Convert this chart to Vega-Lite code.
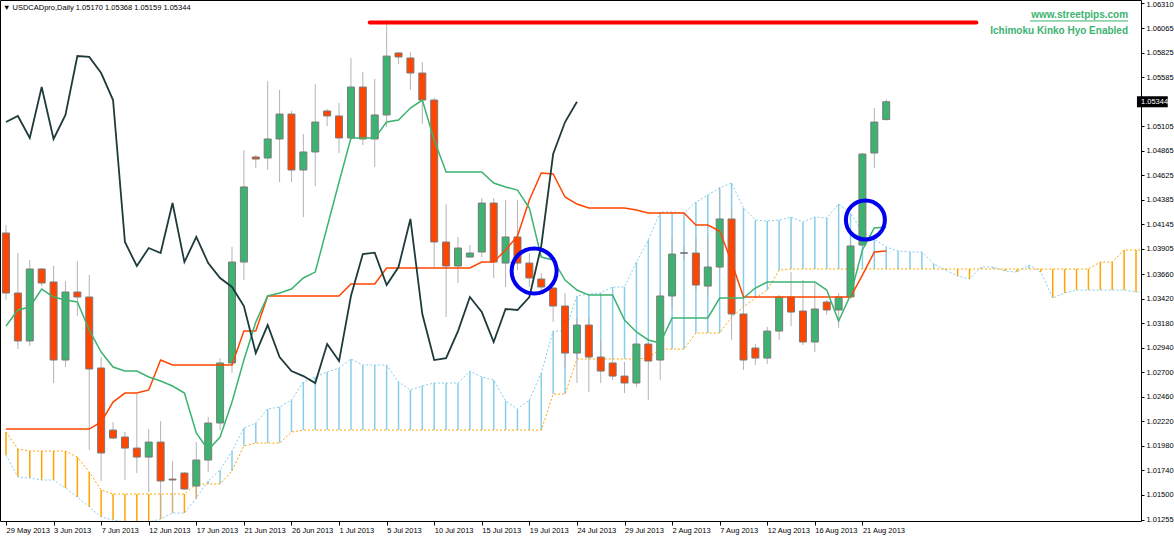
{
"$schema": "https://vega.github.io/schema/vega-lite/v6.json",
"width": 1141, "height": 521,
"autosize": {"type": "none"},
"padding": {"left": 0, "top": 0, "right": 33, "bottom": 15},
"background": "white",
"config": {
 "view": {"stroke": "#000000", "strokeWidth": 1},
 "axis": {"grid": false, "labelOverlap": false, "labelFlush": false, "labelBound": false, "domain": false, "ticks": true, "tickColor": "#000000", "tickWidth": 1, "labelFont": "Liberation Sans", "labelFontSize": 7.5, "labelColor": "#000000", "title": null},
 "axisX": {"tickSize": 4, "labelAlign": "left", "labelPadding": 1},
 "axisY": {"tickSize": 3, "labelPadding": 2, "labelBaseline": "middle"}
},
"title": {"text": "▼  USDCADpro,Daily  1.05170 1.05368 1.05159 1.05344", "anchor": "start", "frame": "group", "offset": -11, "dx": 3, "font": "Liberation Sans", "fontSize": 7.5, "fontWeight": "normal", "color": "#000000"},
"datasets": {
"candles": [
{"i":0,"o":1.04061,"h":1.04139,"l":1.03406,"c":1.03474},
{"i":1,"o":1.03474,"h":1.03865,"l":1.02926,"c":1.03005},
{"i":2,"o":1.03005,"h":1.03797,"l":1.02956,"c":1.03709},
{"i":3,"o":1.03709,"h":1.03719,"l":1.03542,"c":1.03572},
{"i":4,"o":1.03582,"h":1.03738,"l":1.02594,"c":1.02819},
{"i":5,"o":1.02819,"h":1.03591,"l":1.02750,"c":1.03484},
{"i":6,"o":1.03484,"h":1.03787,"l":1.03249,"c":1.03435},
{"i":7,"o":1.03435,"h":1.03650,"l":1.01939,"c":1.02731},
{"i":8,"o":1.02741,"h":1.02848,"l":1.01636,"c":1.01910},
{"i":9,"o":1.02134,"h":1.02213,"l":1.02046,"c":1.02056},
{"i":10,"o":1.02066,"h":1.02115,"l":1.01646,"c":1.01958},
{"i":11,"o":1.01958,"h":1.02486,"l":1.01714,"c":1.01870},
{"i":12,"o":1.01870,"h":1.02144,"l":1.01528,"c":1.02017},
{"i":13,"o":1.02017,"h":1.02222,"l":1.01284,"c":1.01636},
{"i":14,"o":1.01655,"h":1.01831,"l":1.01323,"c":1.01646},
{"i":15,"o":1.01714,"h":1.01724,"l":1.01548,"c":1.01558},
{"i":16,"o":1.01587,"h":1.02017,"l":1.01460,"c":1.01841},
{"i":17,"o":1.01841,"h":1.02262,"l":1.01724,"c":1.02203},
{"i":18,"o":1.02203,"h":1.02838,"l":1.02134,"c":1.02790},
{"i":19,"o":1.02790,"h":1.03924,"l":1.02692,"c":1.03777},
{"i":20,"o":1.03777,"h":1.04872,"l":1.03601,"c":1.04511},
{"i":21,"o":1.04804,"h":1.04823,"l":1.04696,"c":1.04784},
{"i":22,"o":1.04794,"h":1.05547,"l":1.04677,"c":1.04980},
{"i":23,"o":1.04980,"h":1.05459,"l":1.04559,"c":1.05224},
{"i":24,"o":1.05224,"h":1.05254,"l":1.04559,"c":1.04677},
{"i":25,"o":1.04677,"h":1.05029,"l":1.04217,"c":1.04853},
{"i":26,"o":1.04853,"h":1.05518,"l":1.04520,"c":1.05146},
{"i":27,"o":1.05254,"h":1.05273,"l":1.05107,"c":1.05205},
{"i":28,"o":1.05205,"h":1.05332,"l":1.04843,"c":1.04990},
{"i":29,"o":1.04990,"h":1.05772,"l":1.04970,"c":1.05488},
{"i":30,"o":1.05488,"h":1.05635,"l":1.04921,"c":1.04980},
{"i":31,"o":1.04980,"h":1.05567,"l":1.04706,"c":1.05215},
{"i":32,"o":1.05215,"h":1.06143,"l":1.05097,"c":1.05791},
{"i":33,"o":1.05821,"h":1.05831,"l":1.05713,"c":1.05782},
{"i":34,"o":1.05772,"h":1.05831,"l":1.05459,"c":1.05625},
{"i":35,"o":1.05625,"h":1.05733,"l":1.05127,"c":1.05361},
{"i":36,"o":1.05361,"h":1.05381,"l":1.03728,"c":1.03973},
{"i":37,"o":1.03973,"h":1.04344,"l":1.03239,"c":1.03738},
{"i":38,"o":1.03738,"h":1.04022,"l":1.03572,"c":1.03914},
{"i":39,"o":1.03826,"h":1.03943,"l":1.03816,"c":1.03865},
{"i":40,"o":1.03875,"h":1.04403,"l":1.03826,"c":1.04354},
{"i":41,"o":1.04354,"h":1.04403,"l":1.03621,"c":1.03777},
{"i":42,"o":1.03767,"h":1.04383,"l":1.03533,"c":1.04022},
{"i":43,"o":1.04022,"h":1.04383,"l":1.03699,"c":1.03767},
{"i":44,"o":1.03767,"h":1.03865,"l":1.03533,"c":1.03621},
{"i":45,"o":1.03611,"h":1.03670,"l":1.03484,"c":1.03533},
{"i":46,"o":1.03523,"h":1.03533,"l":1.03190,"c":1.03347},
{"i":47,"o":1.03347,"h":1.03474,"l":1.02750,"c":1.02887},
{"i":48,"o":1.02887,"h":1.03230,"l":1.02594,"c":1.03161},
{"i":49,"o":1.03161,"h":1.03230,"l":1.02506,"c":1.02848},
{"i":50,"o":1.02848,"h":1.03005,"l":1.02594,"c":1.02711},
{"i":51,"o":1.02790,"h":1.02838,"l":1.02623,"c":1.02662},
{"i":52,"o":1.02662,"h":1.02799,"l":1.02496,"c":1.02594},
{"i":53,"o":1.02594,"h":1.02985,"l":1.02555,"c":1.02975},
{"i":54,"o":1.02975,"h":1.02985,"l":1.02428,"c":1.02809},
{"i":55,"o":1.02819,"h":1.03484,"l":1.02623,"c":1.03445},
{"i":56,"o":1.03445,"h":1.04012,"l":1.03337,"c":1.03855},
{"i":57,"o":1.03862,"h":1.03924,"l":1.03797,"c":1.03868},
{"i":58,"o":1.03865,"h":1.04012,"l":1.03503,"c":1.03552},
{"i":59,"o":1.03542,"h":1.04012,"l":1.03454,"c":1.03728},
{"i":60,"o":1.03728,"h":1.04511,"l":1.03699,"c":1.04198},
{"i":61,"o":1.04198,"h":1.04295,"l":1.03015,"c":1.03269},
{"i":62,"o":1.03269,"h":1.03435,"l":1.02721,"c":1.02819},
{"i":63,"o":1.02936,"h":1.02975,"l":1.02770,"c":1.02838},
{"i":64,"o":1.02838,"h":1.03142,"l":1.02780,"c":1.03102},
{"i":65,"o":1.03102,"h":1.03454,"l":1.03015,"c":1.03435},
{"i":66,"o":1.03435,"h":1.03679,"l":1.03151,"c":1.03288},
{"i":67,"o":1.03298,"h":1.03601,"l":1.02966,"c":1.02995},
{"i":68,"o":1.02995,"h":1.03582,"l":1.02897,"c":1.03318},
{"i":69,"o":1.03386,"h":1.03406,"l":1.03259,"c":1.03308},
{"i":70,"o":1.03308,"h":1.03474,"l":1.03132,"c":1.03435},
{"i":71,"o":1.03435,"h":1.03992,"l":1.03425,"c":1.03934},
{"i":72,"o":1.03943,"h":1.04843,"l":1.03934,"c":1.04833},
{"i":73,"o":1.04843,"h":1.05283,"l":1.04696,"c":1.05146},
{"i":74,"o":1.05170,"h":1.05368,"l":1.05159,"c":1.05344}
],
"tenkan": [
{"i":0,"v":1.03151},{"i":1,"v":1.03308},{"i":2,"v":1.03337},{"i":3,"v":1.03513},{"i":4,"v":1.03435},
{"i":5,"v":1.03406},{"i":6,"v":1.03386},{"i":7,"v":1.03112},{"i":8,"v":1.02897},{"i":9,"v":1.02750},
{"i":10,"v":1.02711},{"i":11,"v":1.02711},{"i":12,"v":1.02653},{"i":13,"v":1.02614},{"i":14,"v":1.02565},
{"i":15,"v":1.02496},{"i":16,"v":1.02105},{"i":17,"v":1.01939},{"i":18,"v":1.02066},{"i":19,"v":1.02408},
{"i":20,"v":1.02819},{"i":21,"v":1.03190},{"i":22,"v":1.03445},{"i":23,"v":1.03474},{"i":24,"v":1.03513},
{"i":25,"v":1.03621},{"i":26,"v":1.03679},{"i":27,"v":1.04119},{"i":28,"v":1.04559},{"i":29,"v":1.04990},
{"i":30,"v":1.04990},{"i":31,"v":1.04990},{"i":32,"v":1.05146},{"i":33,"v":1.05166},{"i":34,"v":1.05283},
{"i":35,"v":1.05361},{"i":36,"v":1.04970},{"i":37,"v":1.04657},{"i":38,"v":1.04657},{"i":39,"v":1.04657},
{"i":40,"v":1.04657},{"i":41,"v":1.04550},{"i":42,"v":1.04511},{"i":43,"v":1.04481},{"i":44,"v":1.04305},
{"i":45,"v":1.03826},{"i":46,"v":1.03797},{"i":47,"v":1.03601},{"i":48,"v":1.03503},{"i":49,"v":1.03454},
{"i":50,"v":1.03454},{"i":51,"v":1.03454},{"i":52,"v":1.03210},{"i":53,"v":1.03093},{"i":54,"v":1.03015},
{"i":55,"v":1.02985},{"i":56,"v":1.03230},{"i":57,"v":1.03230},{"i":58,"v":1.03230},{"i":59,"v":1.03230},
{"i":60,"v":1.03425},{"i":61,"v":1.03425},{"i":62,"v":1.03425},{"i":63,"v":1.03523},{"i":64,"v":1.03582},
{"i":65,"v":1.03582},{"i":66,"v":1.03582},{"i":67,"v":1.03582},{"i":68,"v":1.03582},{"i":69,"v":1.03503},
{"i":70,"v":1.03200},{"i":71,"v":1.03454},{"i":72,"v":1.03895},{"i":73,"v":1.04110},{"i":74,"v":1.04119}
],
"kijun": [
{"i":0,"v":1.02144},{"i":1,"v":1.02144},{"i":2,"v":1.02144},{"i":3,"v":1.02144},{"i":4,"v":1.02144},
{"i":5,"v":1.02144},{"i":6,"v":1.02144},{"i":7,"v":1.02144},{"i":8,"v":1.02213},{"i":9,"v":1.02408},
{"i":10,"v":1.02496},{"i":11,"v":1.02496},{"i":12,"v":1.02526},{"i":13,"v":1.02819},{"i":14,"v":1.02770},
{"i":15,"v":1.02770},{"i":16,"v":1.02770},{"i":17,"v":1.02770},{"i":18,"v":1.02770},{"i":19,"v":1.02770},
{"i":20,"v":1.03102},{"i":21,"v":1.03102},{"i":22,"v":1.03445},{"i":23,"v":1.03445},{"i":24,"v":1.03445},
{"i":25,"v":1.03445},{"i":26,"v":1.03445},{"i":27,"v":1.03445},{"i":28,"v":1.03445},{"i":29,"v":1.03562},
{"i":30,"v":1.03562},{"i":31,"v":1.03562},{"i":32,"v":1.03719},{"i":33,"v":1.03719},{"i":34,"v":1.03719},
{"i":35,"v":1.03719},{"i":36,"v":1.03719},{"i":37,"v":1.03719},{"i":38,"v":1.03719},{"i":39,"v":1.03719},
{"i":40,"v":1.03777},{"i":41,"v":1.03777},{"i":42,"v":1.03895},{"i":43,"v":1.04031},{"i":44,"v":1.04383},
{"i":45,"v":1.04647},{"i":46,"v":1.04638},{"i":47,"v":1.04413},{"i":48,"v":1.04344},{"i":49,"v":1.04305},
{"i":50,"v":1.04305},{"i":51,"v":1.04305},{"i":52,"v":1.04305},{"i":53,"v":1.04286},{"i":54,"v":1.04256},
{"i":55,"v":1.04256},{"i":56,"v":1.04256},{"i":57,"v":1.04256},{"i":58,"v":1.04139},{"i":59,"v":1.04139},
{"i":60,"v":1.04080},{"i":61,"v":1.03777},{"i":62,"v":1.03435},{"i":63,"v":1.03435},{"i":64,"v":1.03435},
{"i":65,"v":1.03435},{"i":66,"v":1.03435},{"i":67,"v":1.03435},{"i":68,"v":1.03435},{"i":69,"v":1.03435},
{"i":70,"v":1.03435},{"i":71,"v":1.03435},{"i":72,"v":1.03650},{"i":73,"v":1.03875},{"i":74,"v":1.03885}
],
"chikou": [
{"i":0,"v":1.05146},{"i":1,"v":1.05205},{"i":2,"v":1.04990},{"i":3,"v":1.05488},{"i":4,"v":1.04980},
{"i":5,"v":1.05215},{"i":6,"v":1.05791},{"i":7,"v":1.05782},{"i":8,"v":1.05625},{"i":9,"v":1.05361},
{"i":10,"v":1.03973},{"i":11,"v":1.03738},{"i":12,"v":1.03914},{"i":13,"v":1.03865},{"i":14,"v":1.04354},
{"i":15,"v":1.03777},{"i":16,"v":1.04022},{"i":17,"v":1.03767},{"i":18,"v":1.03621},{"i":19,"v":1.03533},
{"i":20,"v":1.03347},{"i":21,"v":1.02887},{"i":22,"v":1.03161},{"i":23,"v":1.02848},{"i":24,"v":1.02711},
{"i":25,"v":1.02662},{"i":26,"v":1.02594},{"i":27,"v":1.02975},{"i":28,"v":1.02809},{"i":29,"v":1.03445},
{"i":30,"v":1.03855},{"i":31,"v":1.03868},{"i":32,"v":1.03552},{"i":33,"v":1.03728},{"i":34,"v":1.04198},
{"i":35,"v":1.03269},{"i":36,"v":1.02819},{"i":37,"v":1.02838},{"i":38,"v":1.03102},{"i":39,"v":1.03435},
{"i":40,"v":1.03288},{"i":41,"v":1.02995},{"i":42,"v":1.03318},{"i":43,"v":1.03308},{"i":44,"v":1.03435},
{"i":45,"v":1.03934},{"i":46,"v":1.04833},{"i":47,"v":1.05146},{"i":48,"v":1.05344}
],
"cloud": [
{"i":0,"a":1.01890,"b":1.02115},{"i":1,"a":1.01675,"b":1.01949},{"i":2,"a":1.01665,"b":1.01929},
{"i":3,"a":1.01646,"b":1.01929},{"i":4,"a":1.01646,"b":1.01929},{"i":5,"a":1.01567,"b":1.01929},
{"i":6,"a":1.01479,"b":1.01870},{"i":7,"a":1.01382,"b":1.01724},{"i":8,"a":1.01284,"b":1.01548},
{"i":9,"a":1.01255,"b":1.01509},{"i":10,"a":1.01235,"b":1.01509},{"i":11,"a":1.01235,"b":1.01509},
{"i":12,"a":1.01235,"b":1.01509},{"i":13,"a":1.01264,"b":1.01509},{"i":14,"a":1.01323,"b":1.01509},
{"i":15,"a":1.01323,"b":1.01509},{"i":16,"a":1.01470,"b":1.01607},{"i":17,"a":1.01636,"b":1.01607},
{"i":18,"a":1.01743,"b":1.01607},{"i":19,"a":1.01929,"b":1.01734},{"i":20,"a":1.02154,"b":1.01978},
{"i":21,"a":1.02203,"b":1.02007},{"i":22,"a":1.02340,"b":1.02007},{"i":23,"a":1.02359,"b":1.02007},
{"i":24,"a":1.02428,"b":1.02115},{"i":25,"a":1.02604,"b":1.02134},{"i":26,"a":1.02653,"b":1.02134},
{"i":27,"a":1.02702,"b":1.02134},{"i":28,"a":1.02741,"b":1.02134},{"i":29,"a":1.02829,"b":1.02134},
{"i":30,"a":1.02770,"b":1.02134},{"i":31,"a":1.02770,"b":1.02134},{"i":32,"a":1.02770,"b":1.02134},
{"i":33,"a":1.02604,"b":1.02134},{"i":34,"a":1.02526,"b":1.02134},{"i":35,"a":1.02565,"b":1.02134},
{"i":36,"a":1.02594,"b":1.02134},{"i":37,"a":1.02594,"b":1.02134},{"i":38,"a":1.02594,"b":1.02134},
{"i":39,"a":1.02711,"b":1.02134},{"i":40,"a":1.02653,"b":1.02134},{"i":41,"a":1.02623,"b":1.02134},
{"i":42,"a":1.02418,"b":1.02134},{"i":43,"a":1.02340,"b":1.02134},{"i":44,"a":1.02428,"b":1.02134},
{"i":45,"a":1.02692,"b":1.02134},{"i":46,"a":1.03102,"b":1.02486},{"i":47,"a":1.03102,"b":1.02486},
{"i":48,"a":1.03445,"b":1.02829},{"i":49,"a":1.03464,"b":1.02829},{"i":50,"a":1.03474,"b":1.02829},
{"i":51,"a":1.03533,"b":1.02829},{"i":52,"a":1.03533,"b":1.02829},{"i":53,"a":1.03777,"b":1.02829},
{"i":54,"a":1.03992,"b":1.02838},{"i":55,"a":1.04266,"b":1.02926},{"i":56,"a":1.04266,"b":1.02926},
{"i":57,"a":1.04256,"b":1.02926},{"i":58,"a":1.04364,"b":1.03083},{"i":59,"a":1.04432,"b":1.03083},
{"i":60,"a":1.04501,"b":1.03083},{"i":61,"a":1.04550,"b":1.03239},{"i":62,"a":1.04305,"b":1.03337},
{"i":63,"a":1.04188,"b":1.03425},{"i":64,"a":1.04178,"b":1.03503},{"i":65,"a":1.04188,"b":1.03699},
{"i":66,"a":1.04217,"b":1.03709},{"i":67,"a":1.04168,"b":1.03709},{"i":68,"a":1.04217,"b":1.03709},
{"i":69,"a":1.04207,"b":1.03709},{"i":70,"a":1.04344,"b":1.03709},{"i":71,"a":1.04256,"b":1.03709},
{"i":72,"a":1.04071,"b":1.03709},{"i":73,"a":1.04002,"b":1.03709},{"i":74,"a":1.03924,"b":1.03709},
{"i":75,"a":1.03885,"b":1.03709},{"i":76,"a":1.03875,"b":1.03709},{"i":77,"a":1.03875,"b":1.03709},
{"i":78,"a":1.03758,"b":1.03709},{"i":79,"a":1.03699,"b":1.03709},{"i":80,"a":1.03640,"b":1.03709},
{"i":81,"a":1.03611,"b":1.03709},{"i":82,"a":1.03728,"b":1.03709},{"i":83,"a":1.03728,"b":1.03709},
{"i":84,"a":1.03689,"b":1.03709},{"i":85,"a":1.03679,"b":1.03709},{"i":86,"a":1.03748,"b":1.03709},
{"i":87,"a":1.03679,"b":1.03709},{"i":88,"a":1.03425,"b":1.03709},{"i":89,"a":1.03474,"b":1.03709},
{"i":90,"a":1.03503,"b":1.03709},{"i":91,"a":1.03503,"b":1.03709},{"i":92,"a":1.03503,"b":1.03777},
{"i":93,"a":1.03503,"b":1.03777},{"i":94,"a":1.03503,"b":1.03895},{"i":95,"a":1.03484,"b":1.03895},
{"i":96,"a":1.03484,"b":1.03895}
],
"trendline": [{"x1":30.58,"x2":81.58,"p":1.06119}],
"circles": [{"i":44.4,"p":1.0369},{"i":72.25,"p":1.04188}],
"notes": [{"label":"www.streetpips.com","i":94.33,"p":1.06192},{"label":"Ichimoku Kinko Hyo Enabled","i":94.33,"p":1.06036}],
"underline": [{"x1":86.08,"x2":94.33,"p":1.06134}],
"lastprice": [{"x1":95.08,"x2":97.67,"i":95.42,"p":1.05344,"p1":1.05290,"p2":1.05398}]
},
"layer": [
{"data":{"name":"cloud"},"mark":{"type":"rule","strokeWidth":1.5,"clip":true},
 "encoding":{
  "x":{"field":"i","type":"quantitative","title":null,"scale":{"domain":[-0.0833,95],"nice":false,"zero":false},
   "axis":{"orient":"bottom","title":null,"labelOverlap":false,"tickCount":40,"values":[0,4,8,12,16,20,24,28,32,36,40,44,48,52,56,60,64,68,72],
    "labelExpr":"['29 May 2013','3 Jun 2013','7 Jun 2013','12 Jun 2013','17 Jun 2013','21 Jun 2013','26 Jun 2013','1 Jul 2013','5 Jul 2013','10 Jul 2013','15 Jul 2013','19 Jul 2013','24 Jul 2013','29 Jul 2013','2 Aug 2013','7 Aug 2013','12 Aug 2013','16 Aug 2013','21 Aug 2013'][round(datum.value/4)]"}},
  "y":{"field":"a","type":"quantitative","title":null,"scale":{"domain":[1.01245,1.06339],"nice":false,"zero":false},
   "axis":{"orient":"right","title":null,"labelOverlap":false,"format":".5f","tickCount":40,
    "values":[1.0631,1.06065,1.05825,1.05585,1.05105,1.04865,1.04625,1.04385,1.04145,1.03905,1.0366,1.0342,1.0318,1.0294,1.027,1.0246,1.0222,1.0198,1.0174,1.015,1.01255],
    "labelBaseline":{"condition":{"test":"datum.value > 1.063","value":"top"},"value":"middle"},
    "labelOffset":{"condition":{"test":"datum.value > 1.063","value":-2},"value":0}}},
  "y2":{"field":"b"},
  "color":{"condition":{"test":"datum.a > datum.b","value":"#87CEEB"},"value":"#FFA500"}}},
{"data":{"name":"cloud"},"mark":{"type":"line","color":"#87CEEB","strokeDash":[2,2],"strokeWidth":1,"clip":true},
 "encoding":{"x":{"field":"i","type":"quantitative","title":null},
  "y":{"field":"a","type":"quantitative","title":null}}},
{"data":{"name":"cloud"},"mark":{"type":"line","color":"#FFA500","strokeDash":[2,2],"strokeWidth":1,"clip":true},
 "encoding":{"x":{"field":"i","type":"quantitative","title":null},
  "y":{"field":"b","type":"quantitative","title":null}}},
{"data":{"name":"candles"},"mark":{"type":"rule","color":"#B4B4B4","strokeWidth":1,"clip":true},
 "encoding":{"x":{"field":"i","type":"quantitative","title":null},
  "y":{"field":"l","type":"quantitative","title":null},
  "y2":{"field":"h"}}},
{"data":{"name":"candles"},"mark":{"type":"bar","size":7,"stroke":"#7A7A7A","strokeWidth":1,"clip":true},
 "encoding":{"x":{"field":"i","type":"quantitative","title":null},
  "y":{"field":"o","type":"quantitative","title":null},
  "y2":{"field":"c"},
  "fill":{"condition":{"test":"datum.c >= datum.o","value":"#3CB371"},"value":"#FF4500"}}},
{"data":{"name":"kijun"},"mark":{"type":"line","color":"#FF4500","strokeWidth":1.5,"clip":true},
 "encoding":{"x":{"field":"i","type":"quantitative","title":null},
  "y":{"field":"v","type":"quantitative","title":null}}},
{"data":{"name":"tenkan"},"mark":{"type":"line","color":"#3CB371","strokeWidth":1.5,"clip":true},
 "encoding":{"x":{"field":"i","type":"quantitative","title":null},
  "y":{"field":"v","type":"quantitative","title":null}}},
{"data":{"name":"chikou"},"mark":{"type":"line","color":"#1E3B3B","strokeWidth":1.8,"clip":true},
 "encoding":{"x":{"field":"i","type":"quantitative","title":null},
  "y":{"field":"v","type":"quantitative","title":null}}},
{"data":{"name":"trendline"},"mark":{"type":"rule","color":"#FF0000","strokeWidth":4,"strokeCap":"round","clip":true},
 "encoding":{"x":{"field":"x1","type":"quantitative","title":null},
  "x2":{"field":"x2"},
  "y":{"field":"p","type":"quantitative","title":null}}},
{"data":{"name":"circles"},"mark":{"type":"point","shape":"circle","filled":false,"stroke":"#0000EE","strokeWidth":4,"opacity":1,"clip":true},
 "encoding":{"x":{"field":"i","type":"quantitative","title":null},
  "y":{"field":"p","type":"quantitative","title":null},
  "size":{"condition":{"test":"datum.i < 60","value":2025},"value":1521}}},
{"data":{"name":"notes"},"mark":{"type":"text","align":"right","baseline":"middle","font":"Liberation Sans","fontSize":10,"fontWeight":"bold","color":"#3CB371","clip":true},
 "encoding":{"x":{"field":"i","type":"quantitative","title":null},
  "y":{"field":"p","type":"quantitative","title":null},
  "text":{"field":"label"}}},
{"data":{"name":"underline"},"mark":{"type":"rule","color":"#3CB371","strokeWidth":1,"clip":true},
 "encoding":{"x":{"field":"x1","type":"quantitative","title":null},
  "x2":{"field":"x2"},
  "y":{"field":"p","type":"quantitative","title":null}}},
{"data":{"name":"lastprice"},"mark":{"type":"rect","color":"#000000","clip":false},
 "encoding":{"x":{"field":"x1","type":"quantitative","title":null},
  "x2":{"field":"x2"},
  "y":{"field":"p1","type":"quantitative","title":null},
  "y2":{"field":"p2"}}},
{"data":{"name":"lastprice"},"mark":{"type":"text","align":"left","baseline":"middle","font":"Liberation Sans","fontSize":7.5,"color":"#FFFFFF","clip":false},
 "encoding":{"x":{"field":"i","type":"quantitative","title":null},
  "y":{"field":"p","type":"quantitative","title":null},
  "text":{"field":"p","type":"quantitative","format":".5f"}}}
]
}
